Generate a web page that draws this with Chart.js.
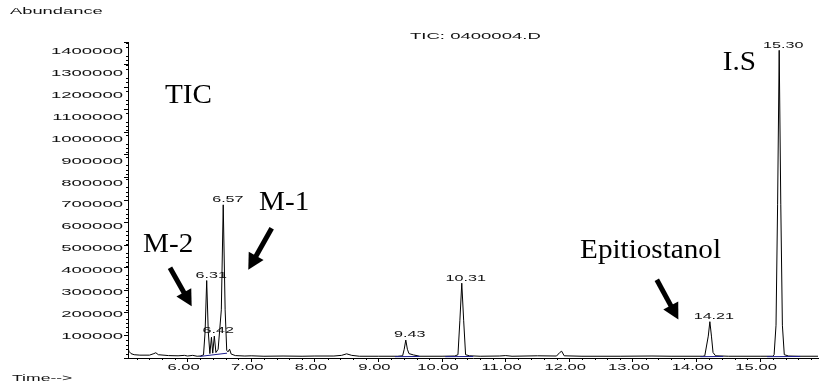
<!DOCTYPE html>
<html><head><meta charset="utf-8">
<script src="https://cdn.jsdelivr.net/npm/chart.js@4"></script>
<style>html,body{margin:0;padding:0;background:#fff;overflow:hidden}</style>
</head><body><canvas id="c" width="821" height="387"></canvas>
<script>
// ---- data ----
const time = [5.063,5.08,5.11,5.16,5.25,5.40,5.47,5.50,5.54,5.70,5.85,5.95,6.00,6.08,6.15,6.20,6.25,6.275,6.30,6.325,6.35,6.375,6.395,6.42,6.445,6.48,6.53,6.56,6.59,6.615,6.635,6.66,6.685,6.75,6.90,7.00,7.20,7.50,7.80,8.00,8.30,8.42,8.50,8.58,8.70,9.00,9.30,9.38,9.405,9.43,9.455,9.48,9.55,9.65,10.00,10.20,10.25,10.28,10.31,10.34,10.37,10.43,10.60,10.90,11.00,11.10,11.50,11.80,11.85,11.88,11.92,12.20,12.80,13.30,13.60,14.10,14.13,14.185,14.21,14.235,14.26,14.30,14.50,15.00,15.20,15.22,15.25,15.275,15.30,15.325,15.35,15.38,15.45,15.60,15.91];
const abundance = [43000,30000,20000,15000,13000,13000,20000,24000,15000,11000,10000,12000,9000,12000,8000,9000,14000,120000,354000,120000,20000,95000,22000,100000,25000,40000,220000,700000,220000,35000,28000,40000,18000,11000,9000,10000,8000,9000,8000,9000,9000,12000,19000,12000,8000,8000,8000,10000,40000,82000,40000,20000,14000,8000,8000,9000,15000,170000,342000,170000,15000,10000,8000,9000,11000,8000,10000,9000,25000,31000,10000,8000,8000,9000,8000,8000,10000,100000,166000,100000,25000,10000,8000,8000,8000,15000,150000,700000,1406000,700000,150000,15000,9000,8000,8000];
// integration baselines (null = gap)
const baselineTime = [6.19,6.62,6.63,9.26,9.65,9.66,10.05,10.49,10.50,14.06,14.42,14.43,15.11,15.63];
const baselineAbundance = [7000,22000,null,6000,7000,null,6000,7000,null,6000,7000,null,6000,7000];
const peakTimes = [6.31,6.42,6.57,9.43,10.31,14.21,15.30];
const peakHeights = [354000,100000,700000,82000,342000,166000,1406000];
const peakLabels = ['6.31','6.42','6.57','9.43','10.31','14.21','15.30'];
const xTickValues = [6,7,8,9,10,11,12,13,14,15];
const xTickLabels = ['6.00','7.00','8.00','9.00','10.00','11.00','12.00','13.00','14.00','15.00'];
const yTickValues = [100000,200000,300000,400000,500000,600000,700000,800000,900000,1000000,1100000,1200000,1300000,1400000];
const yTickLabels = ['100000','200000','300000','400000','500000','600000','700000','800000','900000','1000000','1100000','1200000','1300000','1400000'];
const noteTexts = ['TIC','M-2','M-1','Epitiostanol','I.S'];
const noteTimes = [5.645,5.30,7.123,12.17,14.413];
const noteAbund = [1164000,485000,676500,457800,1314000];
const arrowTailTimes = [5.723,7.322,13.376];
const arrowTailAbund = [412300,593000,357600];
const arrowTipTimes = [6.064,6.954,13.715];
const arrowTipAbund = [236000,403000,175400];
const titleText = 'TIC: 0400004.D';
const yTitle = 'Abundance';
const xTitle = 'Time-->';

const SANS = '"Liberation Sans", Arial, sans-serif';
const SERIF = '"Liberation Serif", "Times New Roman", serif';

function stretchText(ctx, text, x, y, align, size, sx, family, baseline) {
  ctx.save();
  ctx.font = size + 'px ' + family;
  ctx.textBaseline = baseline || 'middle';
  ctx.textAlign = 'left';
  const w = ctx.measureText(text).width * sx;
  let left = x;
  if (align === 'center') left = x - w / 2;
  else if (align === 'right') left = x - w;
  ctx.translate(left, y);
  ctx.scale(sx, 1);
  ctx.fillText(text, 0, 0);
  ctx.restore();
}

const decor = {
  id: 'decor',
  afterDraw(chart) {
    const ctx = chart.ctx, xs = chart.scales.x, ys = chart.scales.y, ca = chart.chartArea;
    ctx.save();
    ctx.fillStyle = '#000';
    ctx.strokeStyle = '#000';
    ctx.lineWidth = 1;
    // minor ticks
    ctx.beginPath();
    for (let v = 20000; v < ys.max; v += 20000) {
      if (v % 100000 === 0) continue;
      const py = Math.round(ys.getPixelForValue(v)) + 0.5;
      ctx.moveTo(ca.left - 2, py); ctx.lineTo(ca.left, py);
    }
    for (let t = 5.2; t < xs.max; t += 0.2) {
      const r = Math.round(t * 10) / 10;
      if (Math.abs(r - Math.round(r)) < 1e-6) continue;
      const px = Math.round(xs.getPixelForValue(r)) + 0.5;
      ctx.moveTo(px, ca.bottom); ctx.lineTo(px, ca.bottom + 2);
    }
    ctx.stroke();
    ctx.fillStyle = '#111';
    // y tick labels
    yTickValues.forEach((v, i) => {
      stretchText(ctx, yTickLabels[i], ca.left - 5, ys.getPixelForValue(v), 'right', 9.5, 1.95, SANS);
    });
    // x tick labels
    xTickValues.forEach((v, i) => {
      stretchText(ctx, xTickLabels[i], xs.getPixelForValue(v) - 4, ca.bottom + 9, 'center', 9.5, 1.75, SANS);
    });
    // titles
    stretchText(ctx, yTitle, 10, 11.5, 'left', 9.5, 1.93, SANS);
    stretchText(ctx, xTitle, 12, 378, 'left', 9.5, 1.85, SANS);
    stretchText(ctx, titleText, 410, 36.5, 'left', 9.5, 1.95, SANS);
    // peak labels
    peakTimes.forEach((t, i) => {
      stretchText(ctx, peakLabels[i], xs.getPixelForValue(t) + 4, ys.getPixelForValue(peakHeights[i]) - 5, 'center', 8.5, 1.9, SANS);
    });
    // annotations
    ctx.fillStyle = '#000';
    noteTexts.forEach((s, i) => {
      stretchText(ctx, s, xs.getPixelForValue(noteTimes[i]), ys.getPixelForValue(noteAbund[i]), 'left', 27, 1.08, SERIF, 'alphabetic');
    });
    // arrows
    arrowTailTimes.forEach((t, i) => {
      const x1 = xs.getPixelForValue(t), y1 = ys.getPixelForValue(arrowTailAbund[i]);
      const x2 = xs.getPixelForValue(arrowTipTimes[i]), y2 = ys.getPixelForValue(arrowTipAbund[i]);
      const a = Math.atan2(y2 - y1, x2 - x1), L = 16, H = 8.5;
      const bx = x2 - L * Math.cos(a), by = y2 - L * Math.sin(a);
      ctx.beginPath();
      ctx.lineWidth = 5;
      ctx.lineCap = 'butt';
      ctx.moveTo(x1, y1); ctx.lineTo(bx + Math.cos(a), by + Math.sin(a));
      ctx.stroke();
      ctx.beginPath();
      ctx.moveTo(x2, y2);
      ctx.lineTo(bx + H * Math.sin(a), by - H * Math.cos(a));
      ctx.lineTo(bx - H * Math.sin(a), by + H * Math.cos(a));
      ctx.closePath();
      ctx.fill();
    });
    ctx.restore();
  }
};

const trace = time.map((t, i) => ({x: t, y: abundance[i]}));
const base = baselineTime.map((t, i) => ({x: t, y: baselineAbundance[i]}));

new Chart(document.getElementById('c'), {
  type: 'line',
  data: {
    datasets: [
      {data: base, borderColor: '#1c1c8a', borderWidth: 1, pointRadius: 0, tension: 0, spanGaps: false},
      {data: trace, borderColor: '#000', borderWidth: 1, pointRadius: 0, tension: 0}
    ]
  },
  options: {
    responsive: false,
    animation: false,
    devicePixelRatio: 1,
    layout: {padding: {left: 0, top: 42, right: 3, bottom: 0}},
    plugins: {legend: {display: false}, tooltip: {enabled: false}, title: {display: false}},
    scales: {
      x: {
        type: 'linear', min: 5.063, max: 15.91,
        ticks: {stepSize: 1, includeBounds: false, autoSkip: false, color: 'rgba(0,0,0,0)', maxRotation: 0},
        grid: {display: true, drawOnChartArea: false, drawTicks: true, tickLength: 4, color: '#000'},
        border: {display: true, color: '#000', width: 1},
        afterFit: s => { s.height = 29; }
      },
      y: {
        type: 'linear', min: 0, max: 1444000,
        ticks: {stepSize: 100000, includeBounds: false, autoSkip: false, color: 'rgba(0,0,0,0)'},
        grid: {display: true, drawOnChartArea: false, drawTicks: true, tickLength: 4, color: '#000'},
        border: {display: true, color: '#000', width: 1},
        afterFit: s => { s.width = 128; }
      }
    }
  },
  plugins: [decor]
});
</script>
</body></html>
